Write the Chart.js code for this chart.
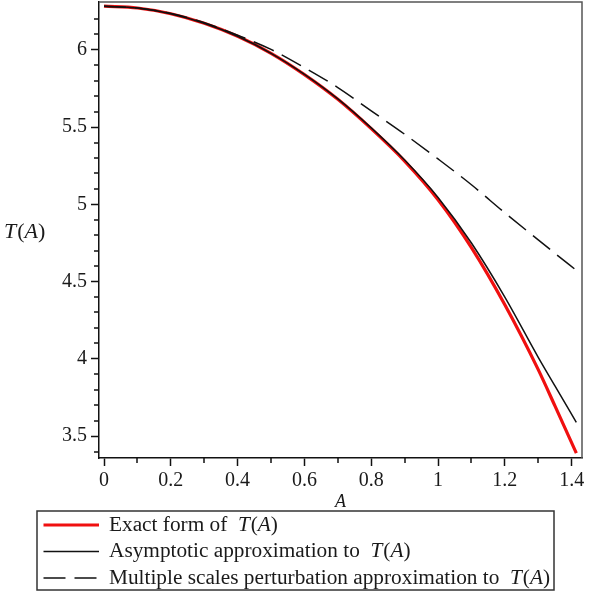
<!DOCTYPE html>
<html>
<head>
<meta charset="utf-8">
<script src="https://cdn.jsdelivr.net/npm/chart.js@4.4.1/dist/chart.umd.min.js"></script>
<style>
html,body{margin:0;padding:0;background:#fff;}
#wrap{width:601px;height:592px;}
</style>
</head>
<body>
<div id="wrap"><canvas id="c" width="601" height="592"></canvas></div>
<script>
// ---- data ----
const amplitudes = [0, 0.1, 0.2, 0.3, 0.4, 0.5, 0.6, 0.7, 0.8, 0.9, 1.0, 1.1, 1.2, 1.3, 1.35, 1.414];
const exactT     = [6.283, 6.271, 6.234, 6.172, 6.088, 5.978, 5.840, 5.680, 5.490, 5.280, 5.030, 4.720, 4.350, 3.930, 3.695, 3.390];
const asymptT    = [6.283, 6.271, 6.234, 6.172, 6.088, 5.978, 5.842, 5.683, 5.495, 5.287, 5.045, 4.750, 4.400, 4.010, 3.825, 3.589];
const multiT     = [6.283, 6.271, 6.236, 6.176, 6.095, 6.003, 5.885, 5.756, 5.605, 5.454, 5.294, 5.127, 4.945, 4.770, 4.683, 4.573];

const seriesNames = [
  ["Exact form of  ", "T(A)"],
  ["Asymptotic approximation to  ", "T(A)"],
  ["Multiple scales perturbation approximation to  ", "T(A)"]
];

const xTickValues = [0, 0.2, 0.4, 0.6, 0.8, 1.0, 1.2, 1.4];
const xTickLabels = ["0", "0.2", "0.4", "0.6", "0.8", "1", "1.2", "1.4"];
const xMinorTicks = [0.1, 0.3, 0.5, 0.7, 0.9, 1.1, 1.3];
const yTickValues = [3.5, 4, 4.5, 5, 5.5, 6];
const yTickLabels = ["3.5", "4", "4.5", "5", "5.5", "6"];
const yMinorTicks = [3.4, 3.6, 3.7, 3.8, 3.9, 4.1, 4.2, 4.3, 4.4, 4.6, 4.7, 4.8, 4.9, 5.1, 5.2, 5.3, 5.4, 5.6, 5.7, 5.8, 5.9, 6.1, 6.2];

const xRange = [-0.015, 1.431];
const yRange = [3.358, 6.31];

// ---- styling ----
const SERIF = '"Liberation Serif", "Times New Roman", serif';
const TXT = '#1a1a1a';

function pts(ys){ return amplitudes.map((a,i)=>({x:a, y:ys[i]})); }

function drawRich(ctx, parts, x, y, size){
  let cx = x;
  ctx.textBaseline = 'middle';
  ctx.textAlign = 'left';
  parts.forEach(str => {
    if (str === 'T(A)' || str === 'A') {
      for (const ch of str) {
        const it = (ch === 'T' || ch === 'A');
        ctx.font = (it ? 'italic ' : '') + size + 'px ' + SERIF;
        ctx.fillText(ch, cx, y);
        cx += ctx.measureText(ch).width + (ch === 'T' ? 1 : 0);
      }
    } else {
      ctx.font = size + 'px ' + SERIF;
      ctx.fillText(str, cx, y);
      cx += ctx.measureText(str).width;
    }
  });
  return cx;
}

const extras = {
  id: 'extras',
  afterDraw(chart){
    const ctx = chart.ctx;
    const ca = chart.chartArea;
    const xs = chart.scales.x, ys = chart.scales.y;
    ctx.save();
    // frame top & right
    ctx.strokeStyle = '#555';
    ctx.lineWidth = 1.5;
    ctx.beginPath();
    ctx.moveTo(ca.left, ca.top); ctx.lineTo(ca.right, ca.top); ctx.lineTo(ca.right, ca.bottom);
    ctx.stroke();
    // minor ticks
    ctx.strokeStyle = '#111';
    ctx.lineWidth = 1.5;
    ctx.beginPath();
    xMinorTicks.forEach(v => { const p = Math.round(xs.getPixelForValue(v)); ctx.moveTo(p, ca.bottom); ctx.lineTo(p, ca.bottom + 5); });
    yMinorTicks.forEach(v => { const p = Math.round(ys.getPixelForValue(v)); ctx.moveTo(ca.left, p); ctx.lineTo(ca.left - 5, p); });
    ctx.stroke();
    // axis titles
    ctx.fillStyle = TXT;
    ctx.font = 'italic 18px ' + SERIF;
    ctx.textAlign = 'center'; ctx.textBaseline = 'middle';
    ctx.fillText('A', (ca.left + ca.right) / 2, 502);
    drawRich(ctx, ['T(A)'], 4, 232, 22);

    // legend
    const lx = 37, ly = 511, lw = 517, lh = 79;
    ctx.strokeStyle = '#333'; ctx.lineWidth = 1.5;
    ctx.strokeRect(lx, ly, lw, lh);
    const rowY = [525, 551.5, 578];
    chart.data.datasets.forEach((ds, i) => {
      ctx.save();
      ctx.strokeStyle = ds.borderColor;
      ctx.lineWidth = ds.borderWidth;
      ctx.setLineDash(ds.borderDash || []);
      ctx.beginPath();
      ctx.moveTo(43.5, rowY[i]); ctx.lineTo(99, rowY[i]);
      ctx.stroke();
      ctx.restore();
      ctx.fillStyle = TXT;
      drawRich(ctx, seriesNames[i], 109, rowY[i], 21.3);
    });
    ctx.restore();
  }
};

const axisCommon = {
  type: 'linear',
  grid: { drawOnChartArea: false, drawTicks: true, tickLength: 8, tickColor: '#111', tickWidth: 1.5 },
  border: { display: true, color: '#111', width: 1.5 },
  ticks: { color: TXT, font: { family: SERIF, size: 20 }, autoSkip: false, maxRotation: 0 }
};

new Chart(document.getElementById('c'), {
  type: 'line',
  data: {
    datasets: [
      { label: 'Exact form of T(A)', data: pts(exactT), borderColor: '#f01010', borderWidth: 3.2, pointRadius: 0, cubicInterpolationMode: 'monotone', fill: false, order: 2 },
      { label: 'Asymptotic approximation to T(A)', data: pts(asymptT), borderColor: '#111111', borderWidth: 1.5, pointRadius: 0, cubicInterpolationMode: 'monotone', fill: false, order: 0 },
      { label: 'Multiple scales perturbation approximation to T(A)', data: pts(multiT), borderColor: '#111111', borderWidth: 1.5, borderDash: [22, 9], pointRadius: 0, cubicInterpolationMode: 'monotone', fill: false, order: 1 }
    ]
  },
  options: {
    responsive: false,
    devicePixelRatio: 1,
    animation: false,
    layout: { padding: { top: 2, right: 19, left: 0, bottom: 0 } },
    plugins: { legend: { display: false }, tooltip: { enabled: false } },
    scales: {
      x: Object.assign({}, axisCommon, {
        min: xRange[0], max: xRange[1],
        afterBuildTicks: s => { s.ticks = xTickValues.map(v => ({ value: v })); },
        afterFit: s => { s.height = 134; s.paddingLeft = 0; s.paddingRight = 0; },
        ticks: Object.assign({}, axisCommon.ticks, { padding: 3, callback: (v) => { const i = xTickValues.indexOf(v); return i >= 0 ? xTickLabels[i] : ''; } })
      }),
      y: Object.assign({}, axisCommon, {
        min: yRange[0], max: yRange[1],
        afterBuildTicks: s => { s.ticks = yTickValues.map(v => ({ value: v })); },
        afterFit: s => { s.width = 99; s.paddingTop = 0; s.paddingBottom = 0; },
        ticks: Object.assign({}, axisCommon.ticks, { padding: 4, callback: (v) => { const i = yTickValues.indexOf(v); return i >= 0 ? yTickLabels[i] : ''; } })
      })
    }
  },
  plugins: [extras]
});
</script>
</body>
</html>
